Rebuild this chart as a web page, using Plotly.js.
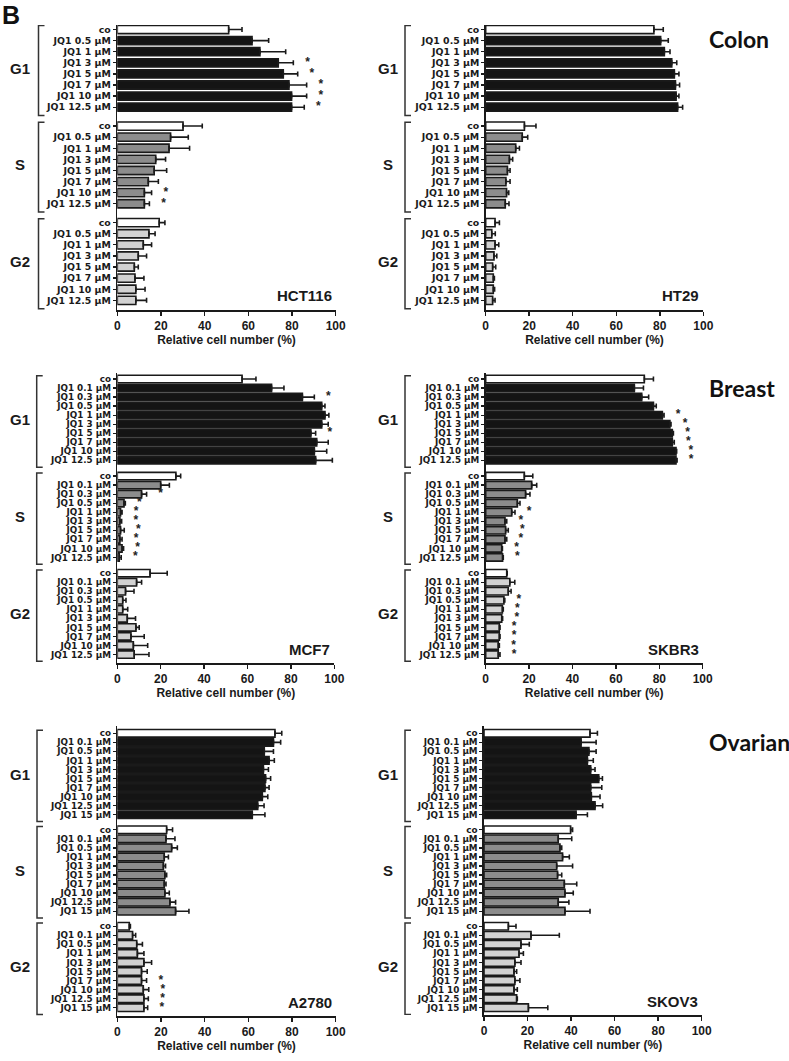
<!DOCTYPE html>
<html>
<head>
<meta charset="utf-8">
<script src="https://cdn.plot.ly/plotly-3.0.1.min.js"></script>
<style>html,body{margin:0;padding:0;background:#fff;}#chart{width:789px;height:1061px;}</style>
</head>
<body>
<div id="chart"></div>
<script>
// ---------- data ----------
const phases = ['G1', 'S', 'G2'];
const labelsColon = ['co', 'JQ1 0.5 µM', 'JQ1 1 µM', 'JQ1 3 µM', 'JQ1 5 µM', 'JQ1 7 µM', 'JQ1 10 µM', 'JQ1 12.5 µM'];
const labelsBreast = ['co', 'JQ1 0.1 µM', 'JQ1 0.3 µM', 'JQ1 0.5 µM', 'JQ1 1 µM', 'JQ1 3 µM', 'JQ1 5 µM', 'JQ1 7 µM', 'JQ1 10 µM', 'JQ1 12.5 µM'];
const labelsOvarian = ['co', 'JQ1 0.1 µM', 'JQ1 0.5 µM', 'JQ1 1 µM', 'JQ1 3 µM', 'JQ1 5 µM', 'JQ1 7 µM', 'JQ1 10 µM', 'JQ1 12.5 µM', 'JQ1 15 µM'];
const xTicks = [0, 20, 40, 60, 80, 100];
const xTitle = 'Relative cell number (%)';

// HCT116
const hct116_G1 = [51.0, 61.7, 65.3, 73.7, 76.0, 78.6, 79.8, 79.8];
const hct116_G1_err = [6.1, 7.6, 11.8, 6.9, 6.6, 8.1, 6.9, 5.8];
const hct116_G1_sig = [0, 0, 0, 1, 1, 1, 1, 1];
const hct116_S = [30.1, 24.4, 23.7, 17.6, 16.9, 14.2, 12.4, 12.4];
const hct116_S_err = [8.8, 8.1, 9.4, 4.5, 5.7, 4.6, 3.3, 2.3];
const hct116_S_sig = [0, 0, 0, 0, 0, 0, 1, 1];
const hct116_G2 = [19.2, 14.5, 11.9, 9.6, 7.8, 8.1, 8.5, 8.5];
const hct116_G2_err = [2.6, 2.8, 3.8, 3.8, 1.8, 4.1, 4.2, 4.9];
const hct116_G2_sig = [0, 0, 0, 0, 0, 0, 0, 0];

// HT29
const ht29_G1 = [77.3, 80.4, 82.1, 85.5, 86.7, 87.2, 87.5, 88.2];
const ht29_G1_err = [4.3, 3.5, 2.6, 2.3, 2.1, 1.9, 1.3, 2.3];
const ht29_G1_sig = [0, 0, 0, 0, 0, 0, 0, 0];
const ht29_S = [17.8, 16.8, 13.8, 10.9, 10.0, 9.3, 9.6, 9.0];
const ht29_S_err = [5.3, 2.5, 1.7, 1.5, 1.2, 1.9, 1.0, 1.7];
const ht29_S_sig = [0, 0, 0, 0, 0, 0, 0, 0];
const ht29_G2 = [4.3, 2.8, 4.3, 3.8, 3.2, 3.5, 3.5, 3.2];
const ht29_G2_err = [2.0, 1.6, 1.7, 1.3, 1.4, 0.5, 0.6, 1.1];
const ht29_G2_sig = [0, 0, 0, 0, 0, 0, 0, 0];

// MCF7
const mcf7_G1 = [57.5, 71.1, 85.3, 94.2, 95.7, 94.2, 89.2, 91.9, 90.8, 91.4];
const mcf7_G1_err = [6.4, 5.7, 5.5, 1.5, 1.8, 3.0, 2.2, 5.3, 5.7, 7.7];
const mcf7_G1_sig = [0, 0, 1, 1, 1, 1, 1, 1, 1, 1];
const mcf7_S = [27.0, 20.0, 11.2, 3.1, 1.5, 1.2, 1.5, 1.2, 2.2, 0.9];
const mcf7_S_err = [2.2, 4.0, 2.3, 0.6, 0.7, 0.8, 1.7, 1.0, 0.7, 0.9];
const mcf7_S_sig = [0, 0, 1, 1, 1, 1, 1, 1, 1, 1];
const mcf7_G2 = [15.1, 8.9, 3.8, 2.5, 2.5, 4.6, 8.6, 6.3, 7.4, 7.8];
const mcf7_G2_err = [7.9, 2.3, 3.9, 1.5, 2.3, 3.8, 1.5, 6.1, 6.6, 6.8];
const mcf7_G2_sig = [0, 0, 0, 0, 0, 0, 0, 0, 0, 0];

// SKBR3
const skbr3_G1 = [73.1, 68.5, 71.9, 77.3, 81.4, 84.9, 86.0, 86.0, 87.7, 87.7];
const skbr3_G1_err = [4.2, 4.2, 3.2, 1.3, 0.8, 0.5, 0.5, 0.9, 0.3, 0.5];
const skbr3_G1_sig = [0, 0, 0, 0, 1, 1, 1, 1, 1, 1];
const skbr3_S = [17.8, 21.2, 18.4, 14.6, 12.0, 8.9, 9.2, 8.9, 7.4, 7.8];
const skbr3_S_err = [3.9, 2.3, 2.0, 1.2, 1.5, 0.8, 1.2, 0.8, 0.3, 0.3];
const skbr3_S_sig = [0, 0, 0, 0, 1, 1, 1, 1, 1, 1];
const skbr3_G2 = [9.7, 11.1, 10.4, 8.4, 7.7, 7.4, 6.3, 6.3, 5.8, 5.8];
const skbr3_G2_err = [0.2, 2.3, 1.3, 0.4, 0.4, 0.4, 0.3, 0.3, 0.5, 0.8];
const skbr3_G2_sig = [0, 0, 0, 1, 1, 1, 1, 1, 1, 1];

// A2780
const a2780_G1 = [72.2, 71.5, 67.3, 69.5, 66.9, 67.9, 67.6, 66.4, 64.3, 61.8];
const a2780_G1_err = [3.1, 3.3, 4.2, 2.4, 2.3, 2.3, 1.9, 2.5, 2.9, 5.8];
const a2780_G1_sig = [0, 0, 0, 0, 0, 0, 0, 0, 0, 0];
const a2780_S = [22.6, 22.3, 24.9, 21.5, 21.1, 21.8, 21.5, 21.8, 24.1, 26.7];
const a2780_S_err = [2.7, 4.1, 2.6, 1.9, 1.0, 0.8, 0.8, 2.0, 2.6, 6.1];
const a2780_S_sig = [0, 0, 0, 0, 0, 0, 0, 0, 0, 0];
const a2780_G2 = [5.5, 7.0, 8.9, 9.2, 12.2, 11.1, 11.1, 11.9, 12.2, 12.2];
const a2780_G2_err = [0.5, 1.4, 2.6, 3.0, 3.5, 2.6, 2.3, 2.5, 2.0, 1.7];
const a2780_G2_sig = [0, 0, 0, 0, 0, 0, 1, 1, 1, 1];

// SKOV3
const skov3_G1 = [48.7, 44.6, 48.2, 47.5, 49.0, 52.7, 49.0, 49.3, 51.0, 42.3];
const skov3_G1_err = [3.4, 6.9, 3.3, 2.7, 2.0, 1.7, 5.1, 4.0, 3.5, 5.2];
const skov3_G1_sig = [0, 0, 0, 0, 0, 0, 0, 0, 0, 0];
const skov3_S = [39.8, 34.1, 34.9, 36.1, 33.4, 33.8, 36.9, 37.2, 34.1, 37.2];
const skov3_S_err = [0.9, 6.2, 0.8, 3.1, 7.3, 1.9, 5.7, 3.8, 4.9, 11.5];
const skov3_S_sig = [0, 0, 0, 0, 0, 0, 0, 0, 0, 0];
const skov3_G2 = [11.2, 21.6, 17.0, 16.1, 14.2, 13.8, 14.2, 13.8, 15.0, 20.4];
const skov3_G2_err = [3.5, 13.0, 3.8, 2.0, 2.8, 1.2, 2.3, 1.5, 0.3, 8.9];
const skov3_G2_sig = [0, 0, 0, 0, 0, 0, 0, 0, 0, 0];

const tissueLabels = ['Colon', 'Breast', 'Ovarian'];

// ---------- layout constants ----------
const W = 789, H = 1061;
const px = x => x / W;
const py = y => 1 - y / H;
const phaseColors = ['#141414', '#8c8c8c', '#d2d2d2'];
const controlColor = '#ffffff';
const edge = '#1a1a1a';
const fontBold = {family: 'Liberation Sans, Arial, sans-serif', color: '#1a1a1a', weight: 700};
const fontCat = {family: 'DejaVu Sans, sans-serif', color: '#1a1a1a', weight: 700};

const panels = [
  {name: 'HCT116', labels: labelsColon,
   vals: [hct116_G1, hct116_S, hct116_G2], errs: [hct116_G1_err, hct116_S_err, hct116_G2_err], sigs: [hct116_G1_sig, hct116_S_sig, hct116_G2_sig],
   g: {left: 117.3, right: 335.7, top: 25, bottom: 310, first: 29.5, slot: 11.1, gap: 1.7, bw: 0.74, brx: 38.5, gx: 19.5, fs: 9.4}},
  {name: 'HT29', labels: labelsColon,
   vals: [ht29_G1, ht29_S, ht29_G2], errs: [ht29_G1_err, ht29_S_err, ht29_G2_err], sigs: [ht29_G1_sig, ht29_S_sig, ht29_G2_sig],
   g: {left: 485.7, right: 703.3, top: 25, bottom: 310, first: 29.5, slot: 11.1, gap: 1.7, bw: 0.74, brx: 405, gx: 388, fs: 9.4}},
  {name: 'MCF7', labels: labelsBreast,
   vals: [mcf7_G1, mcf7_S, mcf7_G2], errs: [mcf7_G1_err, mcf7_S_err, mcf7_G2_err], sigs: [mcf7_G1_sig, mcf7_S_sig, mcf7_G2_sig],
   g: {left: 117.3, right: 334.3, top: 372.5, bottom: 663, first: 379, slot: 9.04, gap: 1.74, bw: 0.82, brx: 36.7, gx: 19.5, fs: 8.8}},
  {name: 'SKBR3', labels: labelsBreast,
   vals: [skbr3_G1, skbr3_S, skbr3_G2], errs: [skbr3_G1_err, skbr3_S_err, skbr3_G2_err], sigs: [skbr3_G1_sig, skbr3_S_sig, skbr3_G2_sig],
   g: {left: 485.7, right: 702.7, top: 372.5, bottom: 663, first: 379, slot: 9.04, gap: 1.74, bw: 0.82, brx: 405, gx: 388, fs: 8.8}},
  {name: 'A2780', labels: labelsOvarian,
   vals: [a2780_G1, a2780_S, a2780_G2], errs: [a2780_G1_err, a2780_S_err, a2780_G2_err], sigs: [a2780_G1_sig, a2780_S_sig, a2780_G2_sig],
   g: {left: 117.3, right: 335.7, top: 726, bottom: 1016, first: 733.3, slot: 9.05, gap: 1.66, bw: 0.84, brx: 37, gx: 19.5, fs: 8.8}},
  {name: 'SKOV3', labels: labelsOvarian,
   vals: [skov3_G1, skov3_S, skov3_G2], errs: [skov3_G1_err, skov3_S_err, skov3_G2_err], sigs: [skov3_G1_sig, skov3_S_sig, skov3_G2_sig],
   g: {left: 484, right: 701.7, top: 726, bottom: 1015, first: 733.3, slot: 9.05, gap: 1.66, bw: 0.84, brx: 405, gx: 388, fs: 8.8}}
];
const tissueY = [39, 388, 742];
const starOffset = 6.5;

const traces = [];
const layout = {
  width: W, height: H, margin: {l: 0, r: 0, t: 0, b: 0},
  paper_bgcolor: '#fff', plot_bgcolor: 'rgba(0,0,0,0)',
  showlegend: false, shapes: [], annotations: [],
  font: fontBold
};

panels.forEach((p, k) => {
  const g = p.g;
  const n = p.labels.length;
  const xa = 'x' + (k ? k + 1 : ''), ya = 'y' + (k ? k + 1 : '');
  const xk = 'xaxis' + (k ? k + 1 : ''), yk = 'yaxis' + (k ? k + 1 : '');
  const ys = [], xs = [], es = [], em = [], cols = [], tv = [], tt = [];
  const sx = [], sy = [];
  phases.forEach((ph, gi) => {
    const off = gi * (n - 1 + g.gap);
    p.vals[gi].forEach((v, i) => {
      const y = off + i;
      ys.push(y); xs.push(v); es.push(p.errs[gi][i]); em.push(0);
      cols.push(i === 0 ? controlColor : phaseColors[gi]);
      tv.push(y); tt.push(p.labels[i]);
      if (p.sigs[gi][i]) { sx.push(v + p.errs[gi][i] + starOffset); sy.push(y); }
    });
    // bracket
    const y0 = off - 0.35, y1 = off + n - 1 + 0.75;
    const x0 = px(g.brx), x1 = px(g.brx + 6);
    layout.shapes.push({type: 'path', xref: 'paper', yref: ya,
      path: `M ${x1},${y0} L ${x0},${y0} L ${x0},${y1} L ${x1},${y1}`,
      line: {color: '#333', width: 1.5}});
    layout.annotations.push({xref: 'paper', yref: ya, x: px(g.gx), y: off + (n - 1) / 2,
      text: ph, showarrow: false, xanchor: 'center', yanchor: 'middle',
      font: {...fontBold, size: 15}});
  });
  traces.push({type: 'bar', orientation: 'h', x: xs, y: ys, xaxis: xa, yaxis: ya, width: g.bw,
    marker: {color: cols, line: {color: edge, width: 1.6}},
    error_x: {type: 'data', symmetric: false, array: es, arrayminus: em, color: edge, thickness: 1.6, width: 2.5},
    hoverinfo: 'skip'});
  if (sx.length) traces.push({type: 'scatter', mode: 'text', x: sx, y: sy, text: sx.map(() => '*'),
    textposition: 'middle center', textfont: {family: 'Liberation Sans, Arial', size: 12, color: '#222'},
    xaxis: xa, yaxis: ya, cliponaxis: false, hoverinfo: 'skip'});
  layout[xk] = {domain: [px(g.left), px(g.right)], anchor: ya, range: [0, 100], tickvals: xTicks,
    ticks: 'outside', ticklen: 4, tickwidth: 1.5, tickcolor: edge, showline: true, linecolor: edge, linewidth: 1.6,
    showgrid: false, zeroline: false, tickfont: {...fontBold, size: 12},
    title: {text: xTitle, font: {...fontBold, size: 12}, standoff: 2}};
  layout[yk] = {domain: [py(g.bottom), py(g.top)], anchor: xa,
    range: [(g.bottom - g.first) / g.slot, -(g.first - g.top) / g.slot],
    tickvals: tv, ticktext: tt, ticks: 'outside', ticklen: 3, tickwidth: 1.3, tickcolor: edge,
    showline: true, linecolor: edge, linewidth: 1.6, showgrid: false, zeroline: false,
    tickfont: {...fontCat, size: g.fs}};
  layout.annotations.push({xref: 'paper', yref: 'paper', x: px(g.right - 2), y: py(g.bottom - 14),
    text: p.name, showarrow: false, xanchor: 'right', yanchor: 'middle', font: {...fontBold, size: 15}});
});

layout.annotations.push({xref: 'paper', yref: 'paper', x: px(1), y: 1, text: 'B', showarrow: false,
  xanchor: 'left', yanchor: 'top', borderpad: 0, font: {family: 'Liberation Sans, Arial', size: 25, color: '#111', weight: 700}});
tissueLabels.forEach((t, i) => {
  layout.annotations.push({xref: 'paper', yref: 'paper', x: px(707), y: py(tissueY[i]), text: t, showarrow: false,
    xanchor: 'left', yanchor: 'middle', font: {family: 'Lato, Open Sans, sans-serif', size: 23, color: '#111', weight: 700}});
});

Plotly.newPlot('chart', traces, layout, {staticPlot: true, displayModeBar: false});
</script>
</body>
</html>
